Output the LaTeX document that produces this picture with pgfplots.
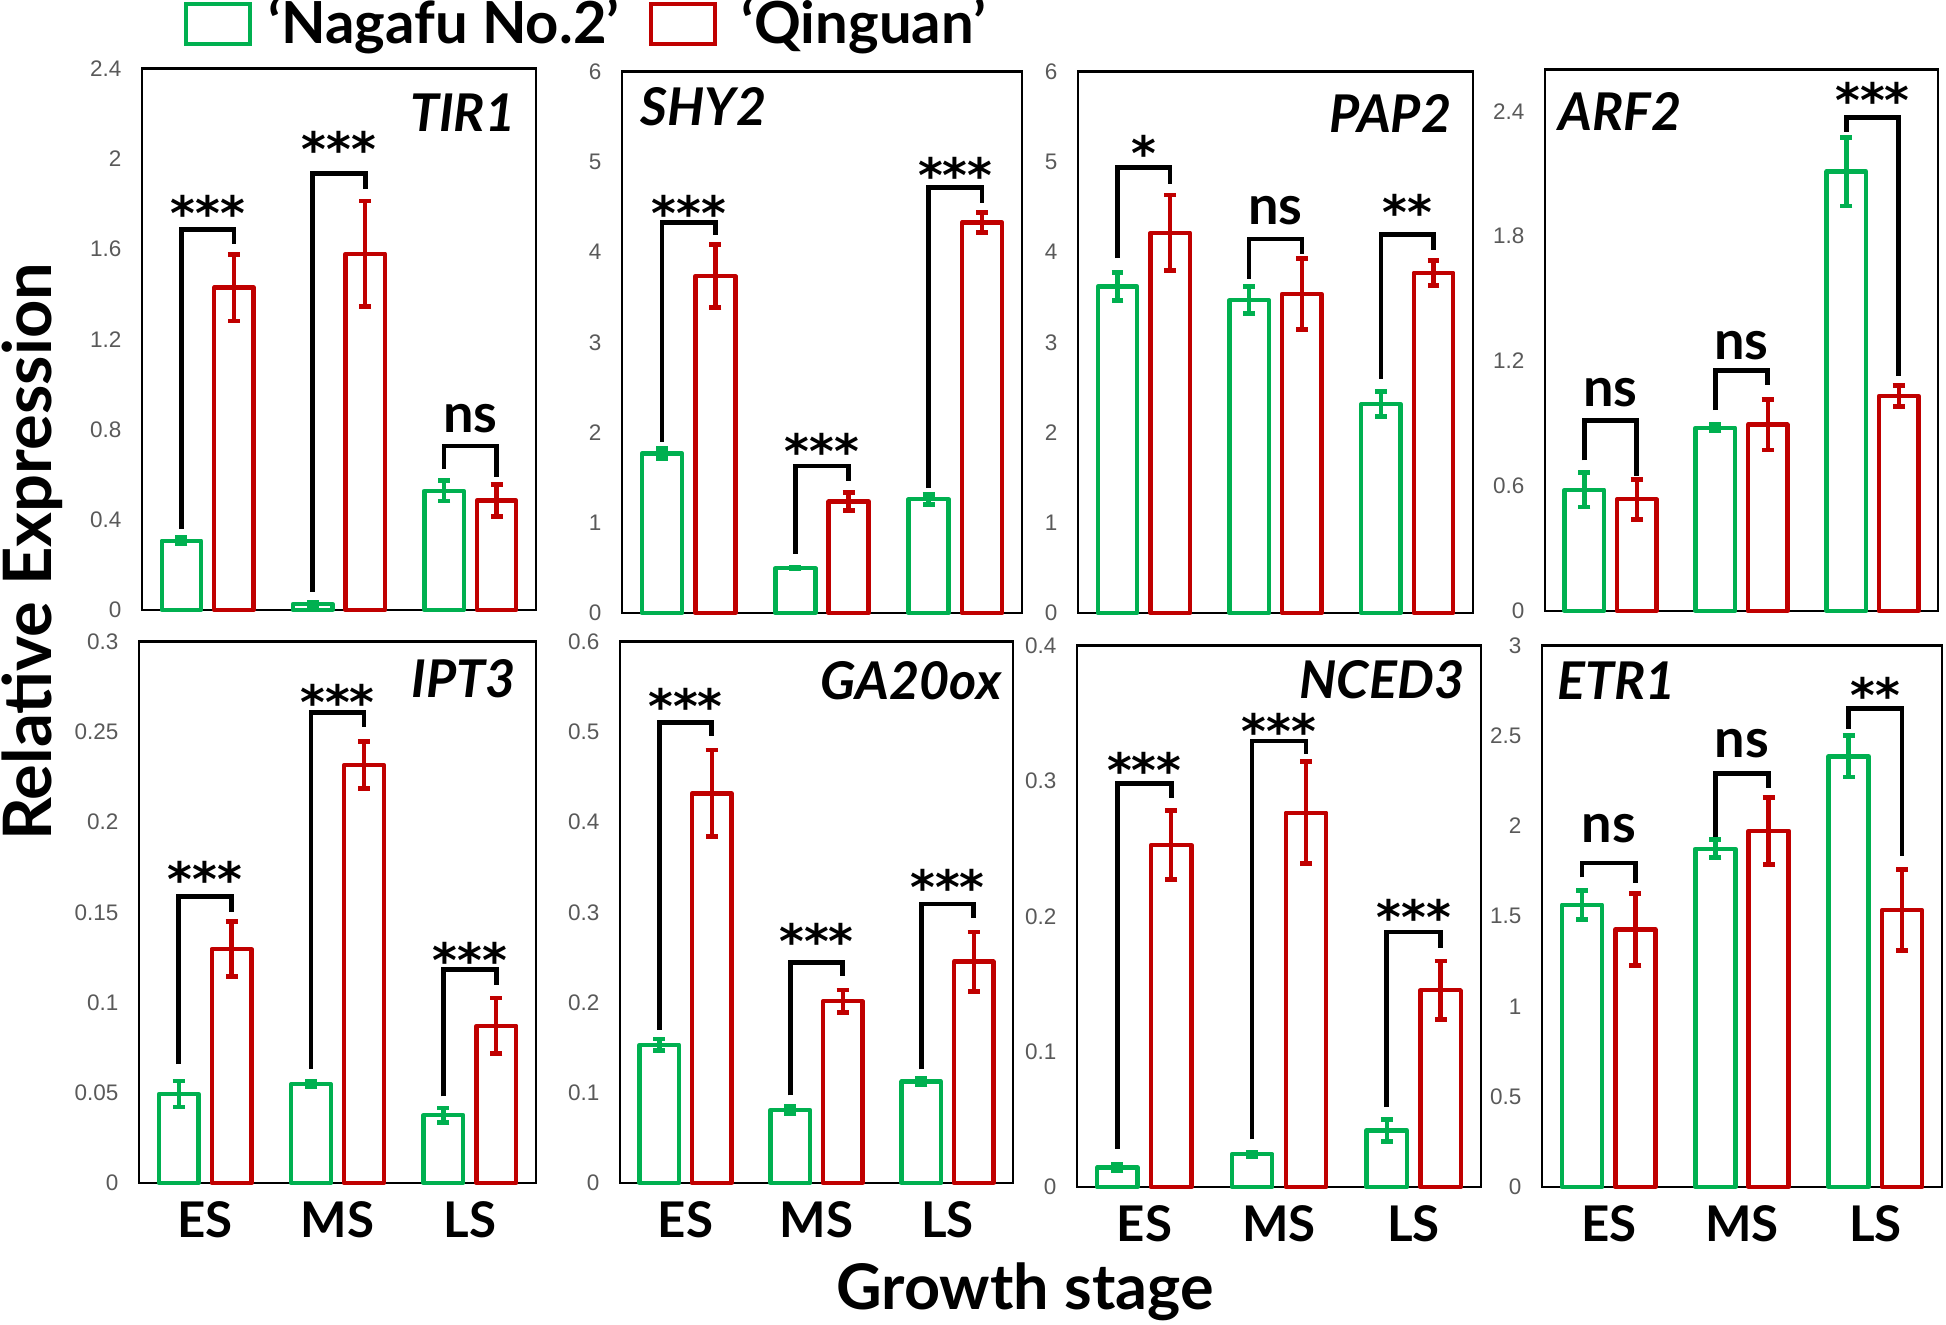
\documentclass[border=0pt]{standalone}
\usepackage{fontspec}
\setmainfont{Lato}
\newfontfamily\tickfont{Liberation Sans}
\newfontfamily\astfont{DejaVu Sans}
\usepackage{pgfplots}
\usepackage{pgfplotstable}
\pgfplotsset{compat=1.18}

\definecolor{cgreen}{HTML}{00B050}
\definecolor{cred}{HTML}{C00000}
\definecolor{tickgray}{HTML}{595959}

% x = stage index (ES, MS, LS); g/r = Nagafu No.2 / Qinguan, ge/re = error
\pgfplotstableread{
x g ge r re
0 0.307 0.015 1.429 0.148
1 0.027 0.008 1.579 0.234
2 0.528 0.045 0.485 0.070
}\tirone
\pgfplotstableread{
x g ge r re
0 1.767 0.055 3.733 0.350
1 0.497 0.010 1.234 0.100
2 1.261 0.055 4.329 0.110
}\shytwo
\pgfplotstableread{
x g ge r re
0 3.617 0.156 4.213 0.420
1 3.467 0.147 3.535 0.395
2 2.315 0.140 3.770 0.138
}\paptwo
\pgfplotstableread{
x g ge r re
0 0.582 0.083 0.537 0.096
1 0.880 0.015 0.895 0.122
2 2.110 0.165 1.033 0.050
}\arftwo
\pgfplotstableread{
x g ge r re
0 0.0493 0.0072 0.1296 0.0153
1 0.0547 0.0015 0.2316 0.0130
2 0.0376 0.0040 0.0871 0.0154
}\iptthree
\pgfplotstableread{
x g ge r re
0 0.1532 0.0065 0.4318 0.0480
1 0.0811 0.0040 0.2015 0.0124
2 0.1124 0.0030 0.2453 0.0328
}\gaox
\pgfplotstableread{
x g ge r re
0 0.0143 0.0025 0.2526 0.0256
1 0.0242 0.0015 0.2765 0.0377
2 0.0418 0.0083 0.1454 0.0216
}\ncedthree
\pgfplotstableread{
x g ge r re
0 1.5635 0.081 1.4268 0.198
1 1.874  0.050 1.974  0.186
2 2.386  0.114 1.534  0.224
}\etrone

\pgfplotsset{
  panel/.style={
    scale only axis, anchor=south west,
    xmin=-0.5, xmax=2.5, ymin=0,
    axis line style={line width=0.6pt},
    major tick length=0pt,
    xtick={0,1,2}, xticklabels={ES,MS,LS},
    x tick label style={font=\fontsize{14}{14}\selectfont\bfseries, inner sep=0pt, anchor=north, yshift=-0.18cm},
    y tick label style={font=\tickfont\fontsize{6.4}{7}\selectfont, text=tickgray, inner sep=0pt, anchor=east, xshift=-0.2cm,
      /pgf/number format/fixed, /pgf/number format/precision=2, /pgf/number format/assume math mode=true},
    scaled y ticks=false,
    clip=false,
  },
  toprow/.style={xtick=\empty},
  gbar/.style={ybar, bar width=0.3, bar shift=0pt, draw=cgreen, fill=white, line width=1.25pt, line join=round,
    error bars/.cd, y dir=both, y explicit,
    error bar style={line width=1.25pt, cgreen},
    error mark options={rotate=90, line width=1.35pt, mark size=1.7pt, cgreen}},
  rbar/.style={ybar, bar width=0.3, bar shift=0pt, draw=cred, fill=white, line width=1.25pt, line join=round,
    error bars/.cd, y dir=both, y explicit,
    error bar style={line width=1.25pt, cred},
    error mark options={rotate=90, line width=1.35pt, mark size=1.7pt, cred}},
}

\newcommand{\bars}[1]{%
  \addplot[gbar] table[x expr=\thisrow{x}-0.2, y=g, y error=ge] {#1};
  \addplot[rbar] table[x expr=\thisrow{x}+0.2, y=r, y error=re] {#1};
}
% centre, left x, right x, left foot, top, right foot, text, text top
\newcommand{\sig}[8]{%
  \addplot[black, line width=1.3pt, sharp plot, mark=none] coordinates {(#2,#4) (#2,#5) (#3,#5) (#3,#6)};
  \node[anchor=north, inner sep=0pt, font=\fontsize{15.4}{15.4}\selectfont\bfseries] at (axis cs:#1,#8) {#7};
}
\newcommand{\st}[1]{{\astfont\fontsize{13.5}{13.5}\selectfont #1}}
\newcommand{\gene}{\fontsize{14.8}{14.8}\selectfont\bfseries\itshape}

\begin{document}
\begin{tikzpicture}
\path[use as bounding box] (0,0) rectangle (19.46cm,13.24cm);

% ---- top row
\begin{axis}[panel, toprow, at={(1.42cm,7.14cm)}, width=3.94cm, height=5.415cm,
  ymax=2.4, ytick={0,0.4,0.8,1.2,1.6,2,2.4}]
\bars{\tirone}
\sig{0}{-0.2}{0.2}{0.358}{1.686}{1.622}{\st{***}}{1.839}
\sig{1}{0.8}{1.2}{0.081}{1.935}{1.868}{\st{***}}{2.125}
\sig{2}{1.8}{2.2}{0.624}{0.727}{0.588}{ns}{0.913}
\node[anchor=north east, inner sep=0pt, font=\gene] at (rel axis cs:0.949,0.954) {TIR1};
\end{axis}

\begin{axis}[panel, toprow, at={(6.22cm,7.11cm)}, width=4.00cm, height=5.415cm,
  ymax=6, ytick={0,1,2,3,4,5,6}]
\bars{\shytwo}
\sig{0}{-0.2}{0.2}{1.898}{4.329}{4.184}{\st{***}}{4.632}
\sig{1}{0.8}{1.2}{0.655}{1.627}{1.460}{\st{***}}{2.002}
\sig{2}{1.8}{2.2}{1.383}{4.713}{4.546}{\st{***}}{5.052}
\node[anchor=north west, inner sep=0pt, font=\gene] at (rel axis cs:0.045,0.972) {SHY2};
\end{axis}

\begin{axis}[panel, toprow, at={(10.78cm,7.11cm)}, width=3.95cm, height=5.415cm,
  ymax=6, ytick={0,1,2,3,4,5,6}]
\bars{\paptwo}
\sig{0}{-0.2}{0.2}{3.933}{4.937}{4.756}{\st{*}}{5.298}
\sig{1}{0.8}{1.2}{3.703}{4.146}{3.978}{ns}{4.620}
\sig{2}{1.8}{2.2}{2.595}{4.191}{4.024}{\st{**}}{4.643}
\node[anchor=north east, inner sep=0pt, font=\gene] at (rel axis cs:0.947,0.959) {PAP2};
\end{axis}

\begin{axis}[panel, toprow, at={(15.45cm,7.13cm)}, width=3.93cm, height=5.415cm,
  ymax=2.6, ytick={0,0.6,1.2,1.8,2.4}]
\bars{\arftwo}
\sig{0}{-0.2}{0.2}{0.723}{0.915}{0.650}{ns}{1.121}
\sig{1}{0.8}{1.2}{0.964}{1.154}{1.085}{ns}{1.346}
\sig{2}{1.8}{2.2}{2.302}{2.369}{1.130}{\st{***}}{2.541}
\node[anchor=north west, inner sep=0pt, font=\gene] at (rel axis cs:0.033,0.959) {ARF2};
\end{axis}

% ---- bottom row
\begin{axis}[panel, at={(1.39cm,1.41cm)}, width=3.97cm, height=5.415cm,
  ymax=0.3, ytick={0,0.05,0.1,0.15,0.2,0.25,0.3}]
\bars{\iptthree}
\sig{0}{-0.2}{0.2}{0.0659}{0.1587}{0.1500}{\st{***}}{0.1786}
\sig{1}{0.8}{1.2}{0.0634}{0.2607}{0.2525}{\st{***}}{0.2769}
\sig{2}{1.8}{2.2}{0.0480}{0.1182}{0.1097}{\st{***}}{0.1338}
\node[anchor=north east, inner sep=0pt, font=\gene] at (rel axis cs:0.95,0.969) {IPT3};
\end{axis}

\begin{axis}[panel, at={(6.20cm,1.41cm)}, width=3.93cm, height=5.415cm,
  ymax=0.6, ytick={0,0.1,0.2,0.3,0.4,0.5,0.6}]
\bars{\gaox}
\sig{0}{-0.2}{0.2}{0.1697}{0.510}{0.495}{\st{***}}{0.5488}
\sig{1}{0.8}{1.2}{0.0970}{0.2443}{0.229}{\st{***}}{0.289}
\sig{2}{1.8}{2.2}{0.1259}{0.309}{0.294}{\st{***}}{0.3488}
\node[anchor=north east, inner sep=0pt, font=\gene] at (rel axis cs:0.972,0.965) {GA20ox};
\end{axis}

\begin{axis}[panel, at={(10.77cm,1.37cm)}, width=4.04cm, height=5.415cm,
  ymax=0.4, ytick={0,0.1,0.2,0.3,0.4}]
\bars{\ncedthree}
\sig{0}{-0.2}{0.2}{0.0282}{0.298}{0.287}{\st{***}}{0.3213}
\sig{1}{0.8}{1.2}{0.0352}{0.3296}{0.3197}{\st{***}}{0.3502}
\sig{2}{1.8}{2.2}{0.059}{0.1885}{0.1763}{\st{***}}{0.2134}
\node[anchor=north east, inner sep=0pt, font=\gene] at (rel axis cs:0.96,0.974) {NCED3};
\end{axis}

\begin{axis}[panel, at={(15.42cm,1.37cm)}, width=4.00cm, height=5.415cm,
  ymax=3, ytick={0,0.5,1,1.5,2,2.5,3}]
\bars{\etrone}
\sig{0}{-0.2}{0.2}{1.715}{1.795}{1.683}{ns}{2.068}
\sig{1}{0.8}{1.2}{1.939}{2.292}{2.212}{ns}{2.540}
\sig{2}{1.8}{2.2}{2.540}{2.652}{1.832}{\st{**}}{2.826}
\node[anchor=north west, inner sep=0pt, font=\gene] at (rel axis cs:0.0375,0.972) {ETR1};
\end{axis}

% ---- legend and axis titles
\draw[cgreen, line width=1.3pt] (1.86cm,12.80cm) rectangle (2.50cm,13.20cm);
\node[anchor=base west, inner sep=0pt, font=\fontsize{16.5}{16.5}\selectfont\bfseries] at (2.68cm,12.80cm) {‘Nagafu No.2’};
\draw[cred, line width=1.3pt] (6.51cm,12.80cm) rectangle (7.15cm,13.20cm);
\node[anchor=base west, inner sep=0pt, font=\fontsize{16.5}{16.5}\selectfont\bfseries] at (7.41cm,12.80cm) {‘Qinguan’};
\node[anchor=base, rotate=90, inner sep=0pt, font=\fontsize{19}{19}\selectfont\bfseries] at (0.52cm,7.72cm) {Relative Expression};
\node[anchor=base, inner sep=0pt, font=\fontsize{17.9}{17.9}\selectfont\bfseries] at (10.25cm,0.15cm) {Growth stage};
\end{tikzpicture}
\end{document}
